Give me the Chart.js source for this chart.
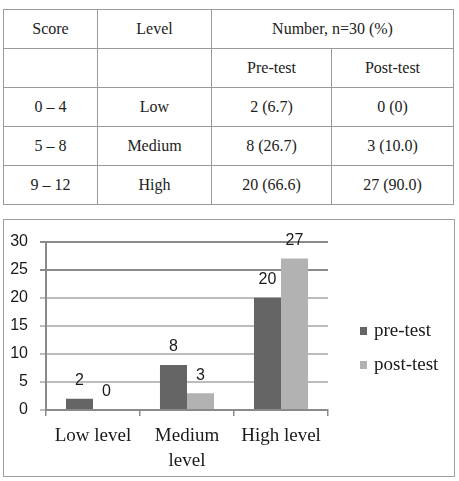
<!DOCTYPE html>
<html>
<head>
<meta charset="utf-8">
<script src="https://cdn.jsdelivr.net/npm/chart.js@4.4.0/dist/chart.umd.min.js"></script>
<style>
  html, body { margin: 0; padding: 0; background: #fff; }
  body { width: 459px; height: 481px; position: relative; overflow: hidden; }
  table {
    position: absolute; left: 3px; top: 9px;
    width: 450px; height: 194px;
    border-collapse: collapse; table-layout: fixed;
    font-family: "Liberation Serif", "Times New Roman", serif;
    font-size: 16px; color: #222;
  }
  td { border: 1px solid #9a9a9a; text-align: center; padding: 0; height: 38px; }
  #chartBox {
    position: absolute; left: 3px; top: 219px;
    width: 450px; height: 256px;
    border: 1px solid #a0a0a0;
  }
  #chartBox canvas { position: absolute; left: 0; top: 0; }
</style>
</head>
<body>
<table id="scoreTable">
  <colgroup><col style="width:94px"><col style="width:114px"><col style="width:120px"><col style="width:122px"></colgroup>
  <tbody id="table-body"></tbody>
</table>
<div id="chartBox"><canvas id="levelChart" width="450" height="256"></canvas></div>
<script>
// Table / chart data
const scoreRanges = ['0 – 4', '5 – 8', '9 – 12'];
const levelNames = ['Low', 'Medium', 'High'];
const preCounts = [2, 8, 20];
const prePercents = ['6.7', '26.7', '66.6'];
const postCounts = [0, 3, 27];
const postPercents = ['0', '10.0', '90.0'];
const chartLabels = ['Low level', ['Medium', 'level'], 'High level'];
const yMax = 30;
const yStep = 5;

// Build the table
const tableBody = document.getElementById('table-body');
let html = '<tr><td>Score</td><td>Level</td><td colspan="2">Number, n=30 (%)</td></tr>';
html += '<tr><td></td><td></td><td>Pre-test</td><td>Post-test</td></tr>';
for (let i = 0; i < scoreRanges.length; i++) {
    html += `<tr>
        <td>${scoreRanges[i]}</td>
        <td>${levelNames[i]}</td>
        <td>${preCounts[i]} (${prePercents[i]})</td>
        <td>${postCounts[i]} (${postPercents[i]})</td>
    </tr>`;
}
tableBody.innerHTML = html;

// Value labels above each bar
const barLabels = {
    id: 'barLabels',
    afterDatasetsDraw(chart) {
        const c = chart.ctx;
        c.save();
        c.font = '16px "Liberation Sans", Arial, sans-serif';
        c.fillStyle = '#1a1a1a';
        c.textAlign = 'center';
        c.textBaseline = 'middle';
        chart.data.datasets.forEach((ds, di) => {
            chart.getDatasetMeta(di).data.forEach((bar, i) => {
                c.fillText(String(ds.data[i]), bar.x, bar.y - 18);
            });
        });
        c.restore();
    }
};

// Simple legend on the right
const sideLegend = {
    id: 'sideLegend',
    afterDraw(chart) {
        const c = chart.ctx;
        c.save();
        c.font = '19px "Liberation Serif", "Times New Roman", serif';
        c.textBaseline = 'middle';
        chart.data.datasets.forEach((ds, di) => {
            const y = 111 + di * 34;
            c.fillStyle = ds.backgroundColor;
            c.fillRect(356, y - 4, 7, 8);
            c.fillStyle = '#1a1a1a';
            c.fillText(ds.label, 370, y);
        });
        c.restore();
    }
};

const ctx = document.getElementById('levelChart').getContext('2d');
const levelChart = new Chart(ctx, {
    type: 'bar',
    data: {
        labels: chartLabels,
        datasets: [
            {
                label: 'pre-test',
                data: preCounts,
                backgroundColor: '#656565',
                barPercentage: 1,
                categoryPercentage: 0.575
            },
            {
                label: 'post-test',
                data: postCounts,
                backgroundColor: '#b2b2b2',
                barPercentage: 1,
                categoryPercentage: 0.575
            }
        ]
    },
    options: {
        responsive: false,
        animation: false,
        layout: { padding: { left: 0, top: 16, right: 126, bottom: 0 } },
        plugins: {
            legend: { display: false },
            tooltip: { enabled: false }
        },
        scales: {
            x: {
                offset: true,
                afterFit: (scale) => { scale.height = 66; },
                grid: {
                    offset: true,
                    drawOnChartArea: false,
                    color: '#8a8a8a',
                    lineWidth: 1.5,
                    tickLength: 6
                },
                border: { color: '#8a8a8a', width: 2 },
                ticks: {
                    color: '#1a1a1a',
                    padding: 8,
                    maxRotation: 0,
                    font: { family: '"Liberation Serif", "Times New Roman", serif', size: 19, lineHeight: 1.3 }
                }
            },
            y: {
                min: 0,
                max: yMax,
                afterFit: (scale) => { scale.width = 42; },
                grid: {
                    color: (c) => (c.tick && c.tick.value >= 25 ? '#8a8a8a' : '#bdbdbd'),
                    lineWidth: 2,
                    tickLength: 6
                },
                border: { color: '#8a8a8a', width: 2 },
                ticks: {
                    stepSize: yStep,
                    color: '#1a1a1a',
                    padding: 12,
                    font: { family: '"Liberation Sans", Arial, sans-serif', size: 16 }
                }
            }
        }
    },
    plugins: [barLabels, sideLegend]
});
</script>
</body>
</html>
